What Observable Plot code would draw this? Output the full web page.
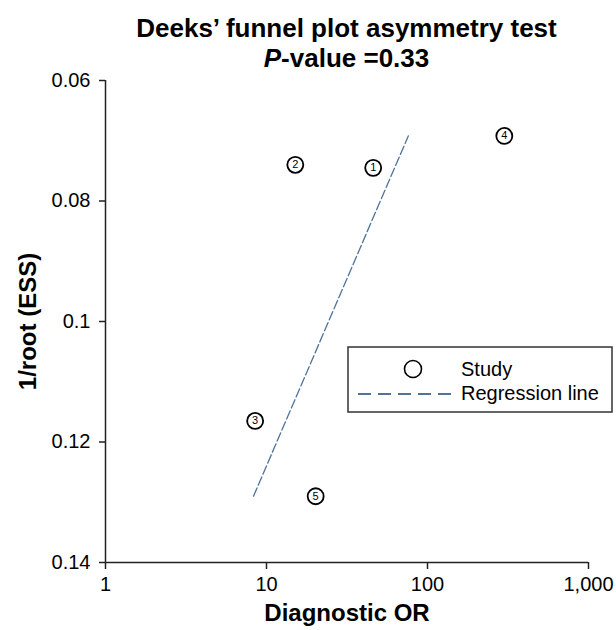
<!DOCTYPE html>
<html>
<head>
<meta charset="utf-8">
<script src="https://cdn.jsdelivr.net/npm/d3@7"></script>
<script src="https://cdn.jsdelivr.net/npm/@observablehq/plot@0.6"></script>
<style>
  html, body { margin: 0; padding: 0; background: #fff; }
  #chart { width: 616px; height: 630px; }
  svg { font-family: "Liberation Sans", Arial, sans-serif; }
</style>
</head>
<body>
<div id="chart"></div>
<script>
// Study data
const studyIds = [1, 2, 3, 4, 5];
const diagnosticOR = [46, 15.1, 8.5, 300, 20.2];
const invRootESS = [0.0745, 0.0740, 0.1165, 0.0692, 0.129];

// Regression line end points
const regOR = [8.3, 76];
const regY = [0.129, 0.0692];

// Tick values
const xTicks = [1, 10, 100, 1000];
const xTickLabels = ["1", "10", "100", "1,000"];
const yTicks = [0.06, 0.08, 0.1, 0.12, 0.14];
const yTickLabels = ["0.06", "0.08", "0.1", "0.12", "0.14"];

const titleText = "Deeks\u2019 funnel plot asymmetry test";
const pValueText = "=0.33";
const xLabel = "Diagnostic OR";
const yLabel = "1/root (ESS)";
const legendLabels = ["Study", "Regression line"];

const studies = studyIds.map((id, i) => ({id, or: diagnosticOR[i], y: invRootESS[i]}));
const reg = regOR.map((o, i) => ({or: o, y: regY[i]}));

const lineColor = "#4f7399";

function titleMark(index, scales, values, dims) {
  const g = d3.create("svg:g").attr("text-anchor", "middle");
  const cx = (dims.marginLeft + dims.width - dims.marginRight) / 2;
  g.append("text").attr("x", cx).attr("y", 37)
    .attr("font-size", 26).attr("font-weight", "bold").attr("fill", "#000").text(titleText);
  const t2 = g.append("text").attr("x", cx).attr("y", 67)
    .attr("font-size", 26).attr("font-weight", "bold").attr("fill", "#000");
  t2.append("tspan").attr("font-style", "italic").text("P");
  t2.append("tspan").text("-value " + pValueText);
  return g.node();
}

function legendMark(index, scales, values, dims) {
  const g = d3.create("svg:g").attr("text-anchor", "start");
  g.append("rect").attr("x", 348).attr("y", 347).attr("width", 264).attr("height", 65)
    .attr("fill", "#fff").attr("stroke", "#333").attr("stroke-width", 1.5);
  g.append("circle").attr("cx", 413).attr("cy", 369).attr("r", 8.5)
    .attr("fill", "#fff").attr("stroke", "#000").attr("stroke-width", 1.6);
  g.append("line").attr("x1", 358).attr("x2", 454).attr("y1", 394).attr("y2", 394)
    .attr("stroke", lineColor).attr("stroke-width", 2.2).attr("stroke-dasharray", "13,7");
  g.append("text").attr("x", 461).attr("y", 369).attr("dy", "0.35em")
    .attr("font-size", 20).attr("fill", "#000").text(legendLabels[0]);
  g.append("text").attr("x", 461).attr("y", 393).attr("dy", "0.35em")
    .attr("font-size", 20).attr("fill", "#000").text(legendLabels[1]);
  return g.node();
}

const chart = Plot.plot({
  width: 616,
  height: 630,
  marginTop: 80,
  marginLeft: 105,
  marginRight: 28,
  marginBottom: 68,
  style: {fontFamily: "'Liberation Sans', Arial, sans-serif", background: "#fff", color: "#000"},
  x: {type: "log", domain: [1, 1000]},
  y: {domain: [0.06, 0.14], reverse: true},
  marks: [
    Plot.axisX({ticks: xTicks, tickFormat: (d) => xTickLabels[xTicks.indexOf(d)], tickSize: 7, tickPadding: 7, fontSize: 20, label: null, stroke: "#222", strokeWidth: 1.5}),
    Plot.axisY({ticks: yTicks, tickFormat: (d) => yTickLabels[yTicks.indexOf(d)], tickSize: 6, tickPadding: 9, fontSize: 20, label: null, stroke: "#222", strokeWidth: 1.5}),
    Plot.ruleX([xTicks[0]], {y1: yTicks[0], y2: yTicks[yTicks.length - 1], stroke: "#222", strokeWidth: 1.5}),
    Plot.ruleY([yTicks[yTicks.length - 1]], {x1: xTicks[0], x2: xTicks[xTicks.length - 1], stroke: "#222", strokeWidth: 1.5}),
    Plot.line(reg, {x: "or", y: "y", stroke: lineColor, strokeWidth: 1.3, strokeDasharray: "9,3"}),
    Plot.dot(studies, {x: "or", y: "y", r: 8, fill: "#fff", stroke: "#000", strokeWidth: 1.8}),
    Plot.text(studies, {x: "or", y: "y", text: "id", fontSize: 11, fill: "#000"}),
    Plot.text([xLabel], {frameAnchor: "bottom", dy: 58, fontSize: 24, fontWeight: "bold", fill: "#000"}),
    Plot.text([yLabel], {frameAnchor: "left", dx: -77, rotate: -90, textAnchor: "middle", fontSize: 24, fontWeight: "bold", fill: "#000"}),
    titleMark,
    legendMark
  ]
});
document.getElementById("chart").appendChild(chart);
</script>
</body>
</html>
